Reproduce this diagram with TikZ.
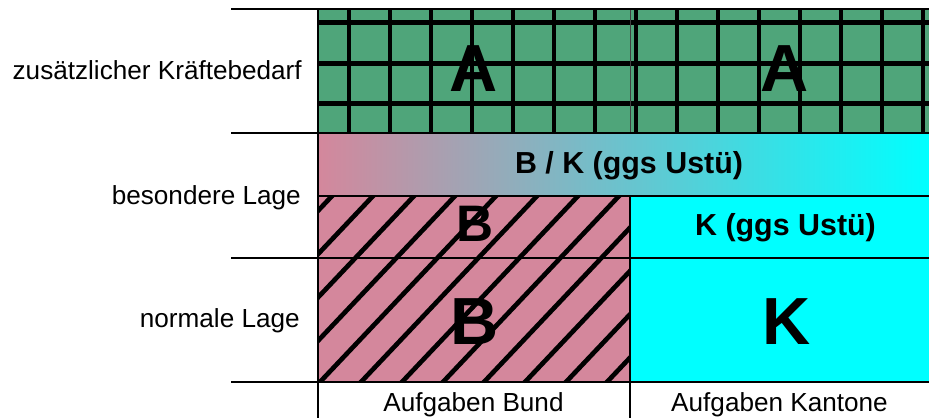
\documentclass[tikz,border=0pt]{standalone}
\usepackage{fontspec}
\setmainfont{Liberation Sans}
\definecolor{forcegreen}{HTML}{4FA57A}
\definecolor{bundpink}{HTML}{D4879C}
\definecolor{kantoncyan}{HTML}{00FFFF}

\begin{document}
\begin{tikzpicture}[
  x=0.75pt,
  y=-0.75pt,
  rule/.style={draw=black,line width=1.2pt},
  thinrule/.style={draw=black!75,line width=0.7pt},
  gridbar/.style={draw=black,line width=3.7pt},
  hatchline/.style={draw=black,line width=3.5pt},
  rowlabel/.style={inner sep=0pt,font=\fontsize{19.6}{23}\selectfont},
  celltext/.style={inner sep=0pt,font=\fontsize{22.8}{27}\selectfont\bfseries},
  bigletter/.style={inner sep=0pt,font=\fontsize{50}{60}\selectfont\bfseries}
]
  \useasboundingbox (0,0) rectangle (929,418);

  % Cell fills: extra forces on top, shared band, then Bund / Kantone split.
  \fill[forcegreen] (318,9) rectangle (929,133);
  \shade[left color=bundpink,right color=kantoncyan] (318,133) rectangle (929,196);
  \fill[bundpink] (318,196) rectangle (630,382);
  \fill[kantoncyan] (630,196) rectangle (929,382);

  % Coarse grid over the green row.
  \begin{scope}
    \clip (318,9) rectangle (929,133);
    \foreach \gx in {0,...,14}
      \draw[gridbar] ({349+41*\gx},0) -- ++(0,150);
    \foreach \gy in {0,1,2}
      \draw[gridbar] (300,{22.5+40.7*\gy}) -- ++(640,0);
  \end{scope}
  \draw[thinrule] (318,9) rectangle (929,133);
  \draw[thinrule] (630,9) -- (630,133);

  % Diagonal hatching over the Bund cells.
  \begin{scope}
    \clip (318,196) rectangle (630,382);
    \foreach \hx in {-5,...,8}
      \draw[hatchline] ({320+41*\hx-17.6},400.6) -- ++(211.2,-223.2);
  \end{scope}

  % Table rules.
  \draw[rule] (231,9) -- (929,9);
  \draw[rule] (231,133) -- (929,133);
  \draw[rule] (318,196) -- (929,196);
  \draw[rule] (231,258) -- (929,258);
  \draw[rule] (231,382) -- (929,382);
  \draw[rule] (318,9) -- (318,418);
  \draw[rule] (630,196) -- (630,418);

  % Row and column headings.
  \node[rowlabel,anchor=base east] (extra) at (302,79.5) {zusätzlicher Kräftebedarf};
  \node[rowlabel,anchor=base east] (special) at (301,204) {besondere Lage};
  \node[rowlabel,anchor=base east] (normal) at (300,327.5) {normale Lage};
  \node[rowlabel,anchor=base] (bund) at (473.5,411.5) {Aufgaben Bund};
  \node[rowlabel,anchor=base] (kantone) at (779.5,411.5) {Aufgaben Kantone};

  % Cell contents.
  \node[celltext,anchor=base] (shared) at (629,173.5) {B / K (ggs Ustü)};
  \node[celltext,anchor=base] (kspecial) at (785.5,235) {K (ggs Ustü)};
  \node[bigletter,anchor=base] (aleft) at (474,91) {A};
  \node[bigletter,anchor=base] (aright) at (785,91) {A};
  \node[bigletter,anchor=base,font=\fontsize{38.5}{46}\selectfont\bfseries] (bspecial) at (475,241.7) {B};
  \node[bigletter,anchor=base] (bnormal) at (475,344) {B};
  \node[bigletter,anchor=base] (knormal) at (787,344) {K};
\end{tikzpicture}
\end{document}
